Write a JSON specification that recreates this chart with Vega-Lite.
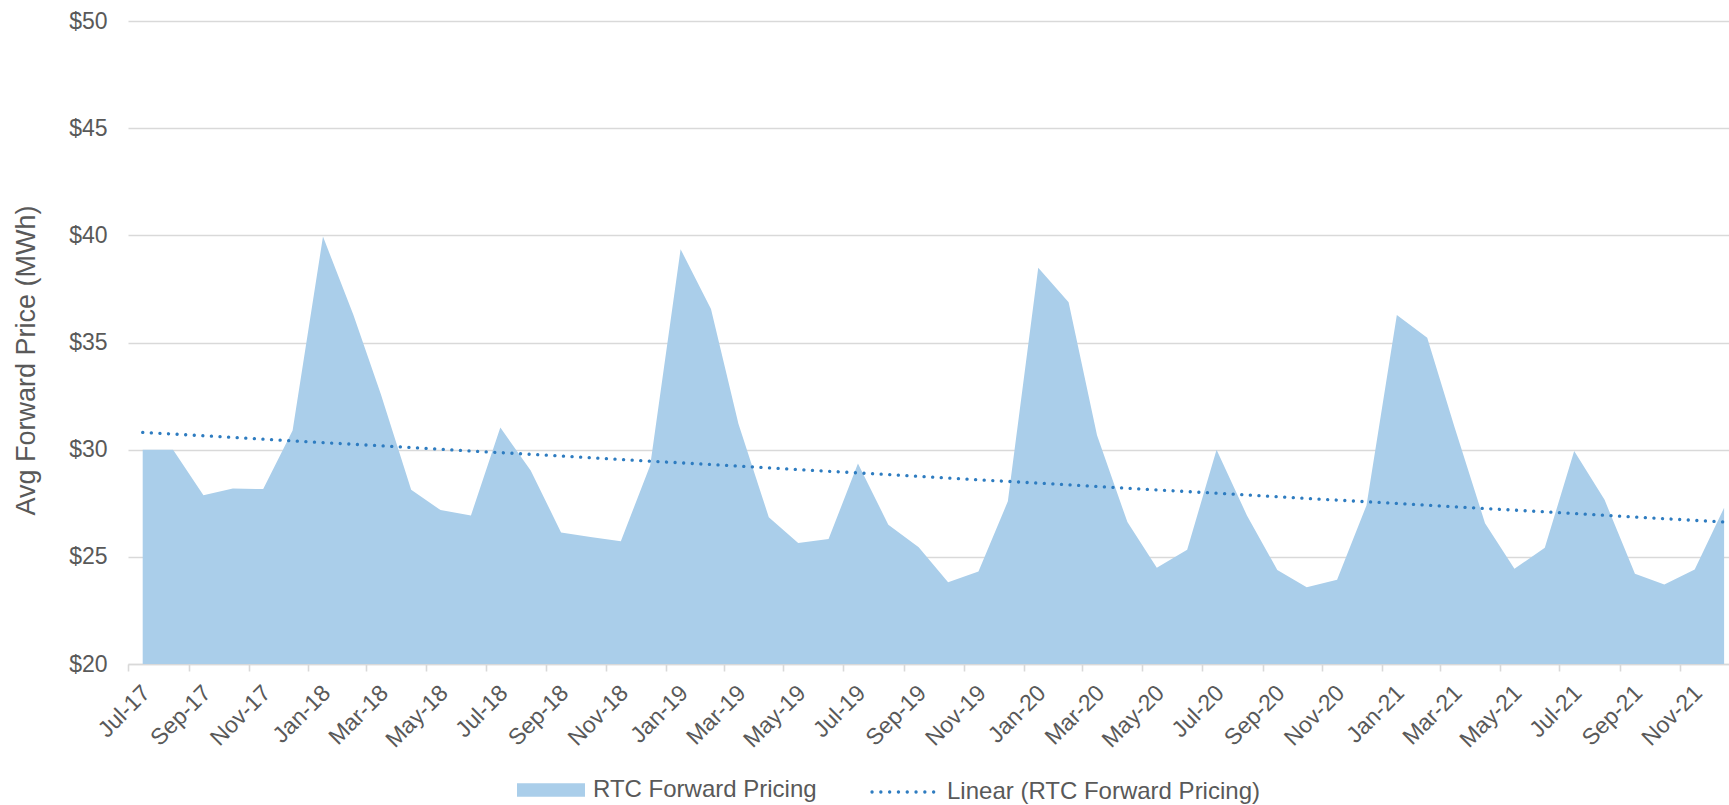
{
 "$schema": "https://vega.github.io/schema/vega-lite/v6.json",
 "width": 1601, "height": 643,
 "autosize": {"type": "none"},
 "padding": {"left": 128, "top": 21, "right": 0, "bottom": 141},
 "background": "white",
 "config": {"view": {"stroke": null}, "font": "Liberation Sans"},
 "data": {"values": [
  {"date": "2017-07-16", "price": 30.0},
  {"date": "2017-08-16", "price": 30.0},
  {"date": "2017-09-16", "price": 27.87},
  {"date": "2017-10-16", "price": 28.19},
  {"date": "2017-11-16", "price": 28.16},
  {"date": "2017-12-16", "price": 30.9},
  {"date": "2018-01-16", "price": 39.94},
  {"date": "2018-02-16", "price": 36.3},
  {"date": "2018-03-16", "price": 32.6},
  {"date": "2018-04-16", "price": 28.13},
  {"date": "2018-05-16", "price": 27.18},
  {"date": "2018-06-16", "price": 26.93},
  {"date": "2018-07-16", "price": 31.03},
  {"date": "2018-08-16", "price": 29.03},
  {"date": "2018-09-16", "price": 26.14},
  {"date": "2018-10-16", "price": 25.92},
  {"date": "2018-11-16", "price": 25.73},
  {"date": "2018-12-16", "price": 29.27},
  {"date": "2019-01-16", "price": 39.35},
  {"date": "2019-02-16", "price": 36.56},
  {"date": "2019-03-16", "price": 31.21},
  {"date": "2019-04-16", "price": 26.85},
  {"date": "2019-05-16", "price": 25.64},
  {"date": "2019-06-16", "price": 25.83},
  {"date": "2019-07-16", "price": 29.35},
  {"date": "2019-08-16", "price": 26.5},
  {"date": "2019-09-16", "price": 25.45},
  {"date": "2019-10-16", "price": 23.82},
  {"date": "2019-11-16", "price": 24.31},
  {"date": "2019-12-16", "price": 27.59},
  {"date": "2020-01-16", "price": 38.49},
  {"date": "2020-02-16", "price": 36.88},
  {"date": "2020-03-16", "price": 30.67},
  {"date": "2020-04-16", "price": 26.62},
  {"date": "2020-05-16", "price": 24.49},
  {"date": "2020-06-16", "price": 25.33},
  {"date": "2020-07-16", "price": 30.0},
  {"date": "2020-08-16", "price": 26.93},
  {"date": "2020-09-16", "price": 24.39},
  {"date": "2020-10-16", "price": 23.58},
  {"date": "2020-11-16", "price": 23.93},
  {"date": "2020-12-16", "price": 27.4},
  {"date": "2021-01-16", "price": 36.28},
  {"date": "2021-02-16", "price": 35.22},
  {"date": "2021-03-16", "price": 31.04},
  {"date": "2021-04-16", "price": 26.57},
  {"date": "2021-05-16", "price": 24.44},
  {"date": "2021-06-16", "price": 25.42},
  {"date": "2021-07-16", "price": 29.94},
  {"date": "2021-08-16", "price": 27.66},
  {"date": "2021-09-16", "price": 24.21},
  {"date": "2021-10-16", "price": 23.71},
  {"date": "2021-11-16", "price": 24.41},
  {"date": "2021-12-16", "price": 27.29}
 ], "format": {"parse": {"date": "utc:'%Y-%m-%d'"}}},
 "layer": [
  {
   "mark": {"type": "area", "color": "#AACEEA", "opacity": 1},
   "encoding": {
    "x": {"field": "date", "type": "temporal",
     "scale": {"type": "utc", "domain": [{"year": 2017, "month": 7, "date": 1, "utc": true}, {"year": 2021, "month": 12, "date": 21, "utc": true}]},
     "axis": {"title": null, "grid": false, "tickCount": {"interval": "month", "step": 2}, "format": "%b-%y",
      "labelAngle": -45, "labelAlign": "right", "labelBaseline": "middle", "labelFontSize": 23, "labelColor": "#595959",
      "labelPadding": 18, "labelOffset": 18, "domainColor": "#D9D9D9", "domainWidth": 1.6, "tickColor": "#D9D9D9", "tickWidth": 1.6, "tickSize": 7,
      "labelFlush": false, "labelOverlap": false, "labelBound": false}},
    "y": {"field": "price", "type": "quantitative",
     "scale": {"domain": [20, 50], "zero": false, "nice": false},
     "axis": {"title": "Avg Forward Price (MWh)", "values": [20, 25, 30, 35, 40, 45, 50], "format": "$.0f",
      "domain": false, "ticks": false, "grid": true, "gridColor": "#D9D9D9", "gridWidth": 1.6,
      "labelFontSize": 23, "labelColor": "#595959", "labelPadding": 21,
      "titleFontSize": 27, "titleFontWeight": "normal", "titleColor": "#595959",
      "titleX": -102, "titleY": 339, "titleAngle": -90, "titleAlign": "center", "titleBaseline": "middle"}},
    "y2": {"datum": 20},
    "fill": {"datum": "RTC Forward Pricing", "scale": {"range": ["#AACEEA"]},
     "legend": {"orient": "none", "legendX": 389, "legendY": 735, "title": null, "padding": 0,
      "symbolType": "M-1,-0.196H1V0.196H-1Z", "symbolSize": 4624, "symbolStrokeWidth": 0, "symbolOpacity": 1,
      "labelFontSize": 24, "labelColor": "#595959", "labelOffset": 8, "labelLimit": 0}}
   }
  },
  {
   "transform": [{"regression": "price", "on": "date"}],
   "mark": {"type": "line", "strokeWidth": 3.3, "strokeDash": [0.1, 8.5], "strokeCap": "round"},
   "encoding": {
    "x": {"field": "date", "type": "temporal"},
    "y": {"field": "price", "type": "quantitative"},
    "stroke": {"datum": "Linear (RTC Forward Pricing)", "scale": {"range": ["#2E7CC0"]},
     "legend": {"orient": "none", "legendX": 742, "legendY": 738, "title": null, "padding": 0,
      "symbolType": "stroke", "symbolSize": 3844, "symbolStrokeWidth": 3.3, "symbolDash": [0.1, 8.7],
      "labelFontSize": 24, "labelColor": "#595959", "labelOffset": 11, "labelLimit": 0,
      "encode": {"symbols": {"update": {"strokeCap": {"value": "round"}}}}}}
   }
  }
 ]
}
